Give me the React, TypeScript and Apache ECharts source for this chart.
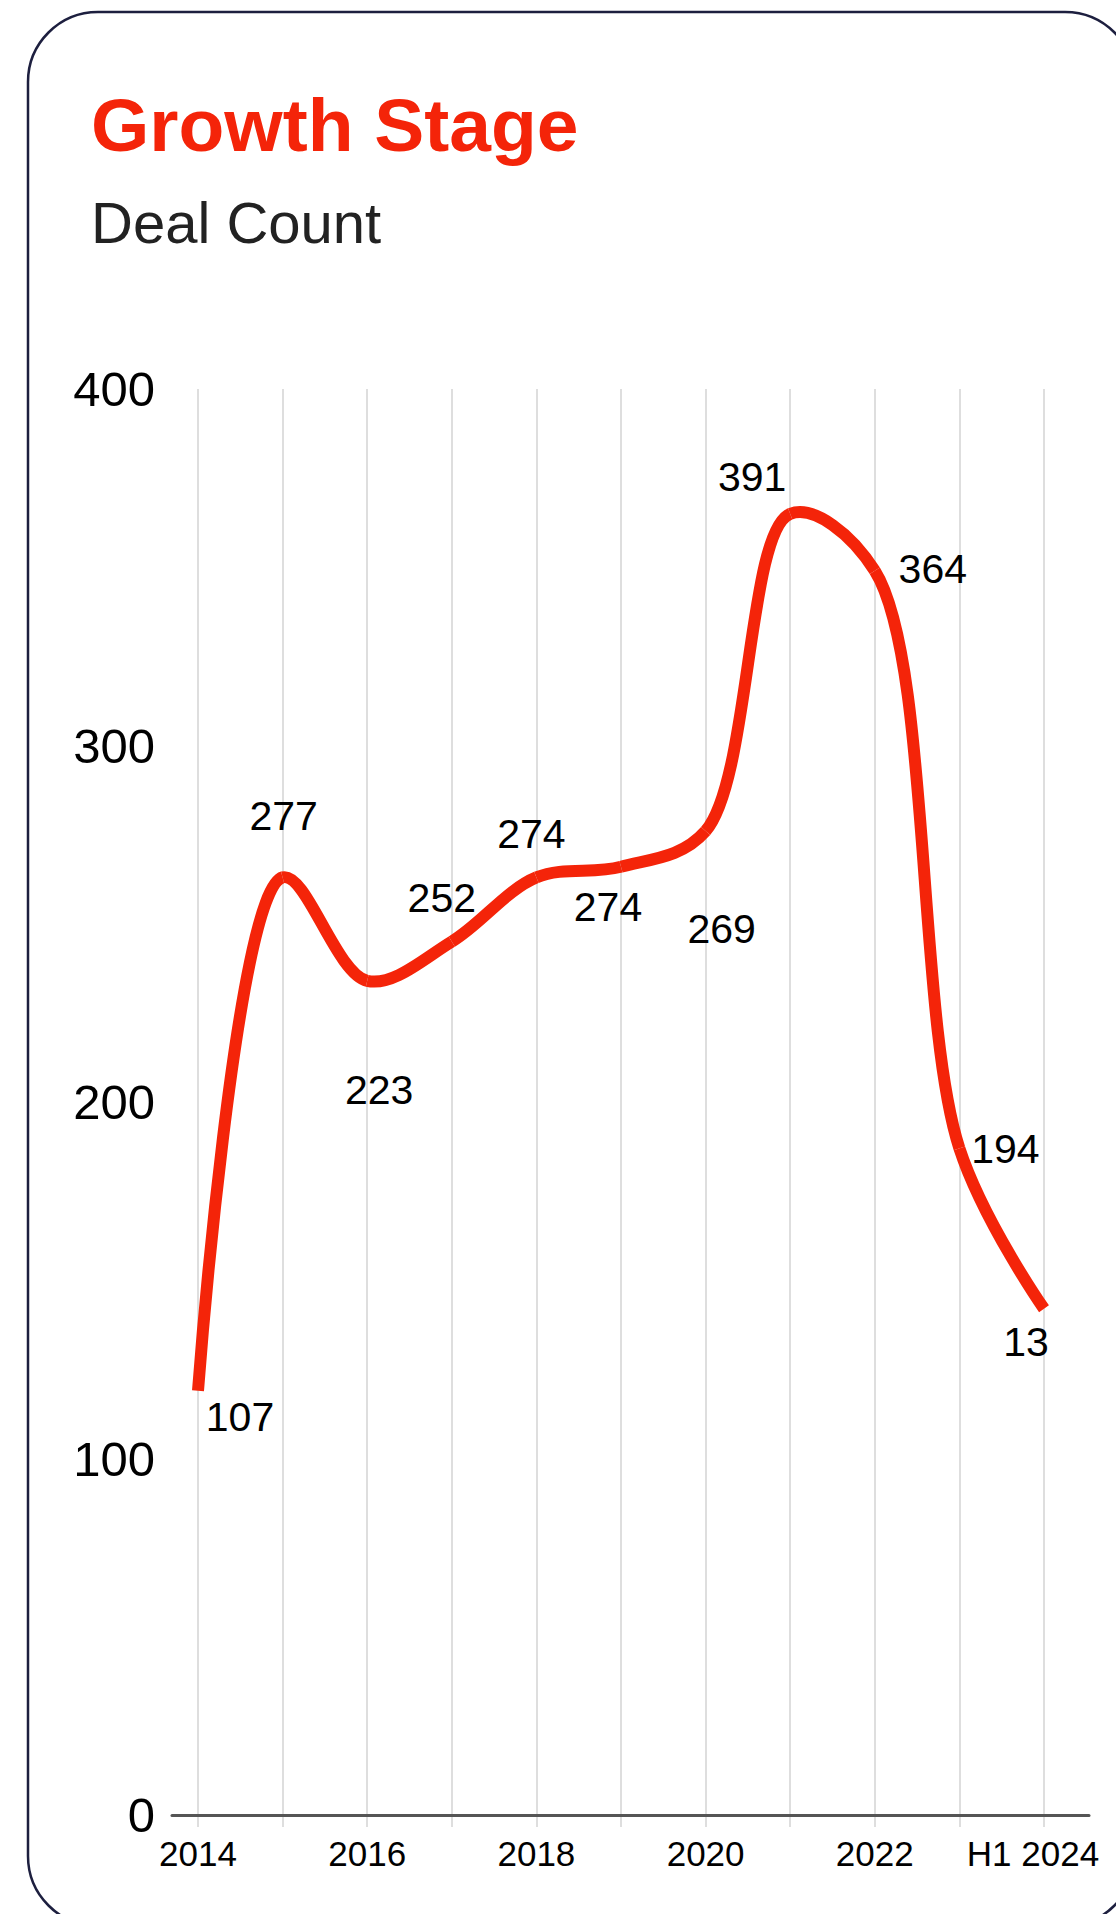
import React, { useEffect, useRef } from 'react';
import * as echarts from 'echarts';

// ---- data ----
const categories = ['2014', '2015', '2016', '2017', '2018', '2019', '2020', '2021', '2022', '2023', 'H1 2024'];
// line heights as drawn against the y axis
const plottedCounts = [119, 263, 234, 245, 263, 266, 276, 365, 349, 187, 142];
// numbers printed next to the line
const printedLabels = ['107', '277', '223', '252', '274', '274', '269', '391', '364', '194', '13'];
const yMin = 0;
const yMax = 400;
const yStep = 100;

// ---- layout (label placement relative to each point) ----
const labelOffsets: number[][] = [
  [42, 26], [1, -61], [12, 109], [-10, -44], [-5, -43], [-13, 40],
  [16, 98], [-38, -37], [58, -2], [46, 1], [-18, 33],
];

const RED = '#F42409';
const FONT = '"Liberation Sans", Arial, Helvetica, sans-serif';
const ALPHA = 0.5; // centripetal Catmull-Rom

// Catmull-Rom spline (same construction as d3.curveCatmullRom) through pixel points
function catmullRomSegments(pts: number[][]) {
  const eps = 1e-12;
  const segs: any[] = [];
  const dist = (a: number[], b: number[]) => Math.hypot(b[0] - a[0], b[1] - a[1]);
  for (let i = 0; i < pts.length - 1; i++) {
    const p0 = pts[i - 1];
    const p1 = pts[i];
    const p2 = pts[i + 1];
    const p3 = pts[i + 2];
    const l01 = p0 ? dist(p0, p1) : 0;
    const l12 = dist(p1, p2);
    const l23 = p3 ? dist(p2, p3) : 0;
    const l01a = Math.pow(l01, ALPHA), l01_2a = Math.pow(l01, 2 * ALPHA);
    const l12a = Math.pow(l12, ALPHA), l12_2a = Math.pow(l12, 2 * ALPHA);
    const l23a = Math.pow(l23, ALPHA), l23_2a = Math.pow(l23, 2 * ALPHA);
    let c1 = [p1[0], p1[1]];
    let c2 = [p2[0], p2[1]];
    if (p0 && l01a > eps) {
      const a = 2 * l01_2a + 3 * l01a * l12a + l12_2a;
      const n = 3 * l01a * (l01a + l12a);
      c1 = [
        (p1[0] * a - p0[0] * l12_2a + p2[0] * l01_2a) / n,
        (p1[1] * a - p0[1] * l12_2a + p2[1] * l01_2a) / n,
      ];
    }
    if (p3 && l23a > eps) {
      const b = 2 * l23_2a + 3 * l23a * l12a + l12_2a;
      const m = 3 * l23a * (l23a + l12a);
      c2 = [
        (p2[0] * b + p1[0] * l23_2a - p3[0] * l12_2a) / m,
        (p2[1] * b + p1[1] * l23_2a - p3[1] * l12_2a) / m,
      ];
    }
    segs.push({
      x1: p1[0], y1: p1[1],
      cpx1: c1[0], cpy1: c1[1],
      cpx2: c2[0], cpy2: c2[1],
      x2: p2[0], y2: p2[1],
    });
  }
  return segs;
}

export default function App() {
  const ref = useRef<HTMLDivElement>(null);

  useEffect(() => {
    if (!ref.current) return;
    const chart = echarts.init(ref.current, null, { renderer: 'svg' });
    const lastIdx = categories.length - 1;
    chart.setOption({
      animation: false,
      backgroundColor: '#ffffff',
      textStyle: { fontFamily: FONT },
      graphic: [
        {
          type: 'rect',
          z: 0,
          shape: { x: 28, y: 12, width: 1107, height: 1914, r: 70 },
          style: { fill: '#ffffff', stroke: '#1d1f3f', lineWidth: 2.5 },
        },
        {
          type: 'text',
          z: 1,
          x: 91,
          y: 125,
          style: {
            text: 'Growth Stage',
            fill: RED,
            font: `bold 75px ${FONT}`,
            verticalAlign: 'middle',
          },
        },
        {
          type: 'text',
          z: 1,
          x: 91,
          y: 222,
          style: {
            text: 'Deal Count',
            fill: '#222222',
            font: `58px ${FONT}`,
            verticalAlign: 'middle',
          },
        },
      ],
      grid: [
        { left: 198, right: 72, top: 389, bottom: 99, containLabel: false, outerBoundsMode: 'none' },
        { left: 172, right: 27, top: 389, bottom: 99, containLabel: false, outerBoundsMode: 'none' },
      ],
      xAxis: [
        {
          type: 'category',
          gridIndex: 0,
          data: categories,
          boundaryGap: false,
          axisLine: { show: false },
          axisTick: { show: true, length: 12, interval: 0, lineStyle: { color: '#dedede', width: 2 } },
          axisLabel: {
            interval: 1,
            margin: 21,
            fontSize: 35,
            color: '#000000',
            fontFamily: FONT,
            formatter: (v: string, i: number) => (i === lastIdx ? `{h|${v}}` : v),
            rich: {
              h: { fontSize: 35, color: '#000000', fontFamily: FONT, padding: [0, 22, 0, 0] },
            },
          },
          splitLine: { show: true, interval: 0, lineStyle: { color: '#dedede', width: 2 } },
        },
        {
          type: 'value',
          gridIndex: 1,
          min: 0,
          max: 1,
          z: 5,
          axisLine: { show: true, lineStyle: { color: '#555555', width: 3 } },
          axisTick: { show: false },
          axisLabel: { show: false },
          splitLine: { show: false },
        },
      ],
      yAxis: [
        {
          type: 'value',
          gridIndex: 0,
          min: yMin,
          max: yMax,
          interval: yStep,
          axisLine: { show: false },
          axisTick: { show: false },
          splitLine: { show: false },
          axisLabel: {
            fontSize: 49,
            color: '#000000',
            fontFamily: FONT,
            margin: 43,
            padding: [12, 0, 0, 0],
          },
        },
        { type: 'value', gridIndex: 1, min: 0, max: 1, show: false },
      ],
      series: [
        {
          type: 'custom',
          xAxisIndex: 0,
          yAxisIndex: 0,
          z: 3,
          data: plottedCounts.map((v, i) => [i, v]),
          encode: { x: 0, y: 1 },
          silent: true,
          renderItem: (params: any, api: any) => {
            if (params.dataIndex !== 0) return null;
            const pts = plottedCounts.map((v, i) => api.coord([i, v]));
            const segs = catmullRomSegments(pts);
            return {
              type: 'group',
              children: segs.map((s) => ({
                type: 'bezierCurve',
                shape: s,
                style: { fill: 'none', stroke: RED, lineWidth: 12, lineCap: 'butt' },
              })),
            };
          },
        },
        {
          type: 'line',
          xAxisIndex: 0,
          yAxisIndex: 0,
          z: 4,
          data: plottedCounts.map((v, i) => ({ value: v, label: { offset: labelOffsets[i] } })),
          symbol: 'circle',
          symbolSize: 1,
          showAllSymbol: true,
          itemStyle: { color: 'rgba(0,0,0,0)' },
          lineStyle: { opacity: 0, width: 0 },
          label: {
            show: true,
            position: 'inside',
            fontSize: 41,
            color: '#000000',
            fontFamily: FONT,
            textBorderWidth: 0,
            formatter: (p: any) => printedLabels[p.dataIndex],
          },
          emphasis: { disabled: true },
        },
      ],
    });
    return () => chart.dispose();
  }, []);

  return (
    <div
      ref={ref}
      style={{ position: 'absolute', left: 0, top: 0, width: 1116, height: 1914, background: '#ffffff' }}
    />
  );
}
